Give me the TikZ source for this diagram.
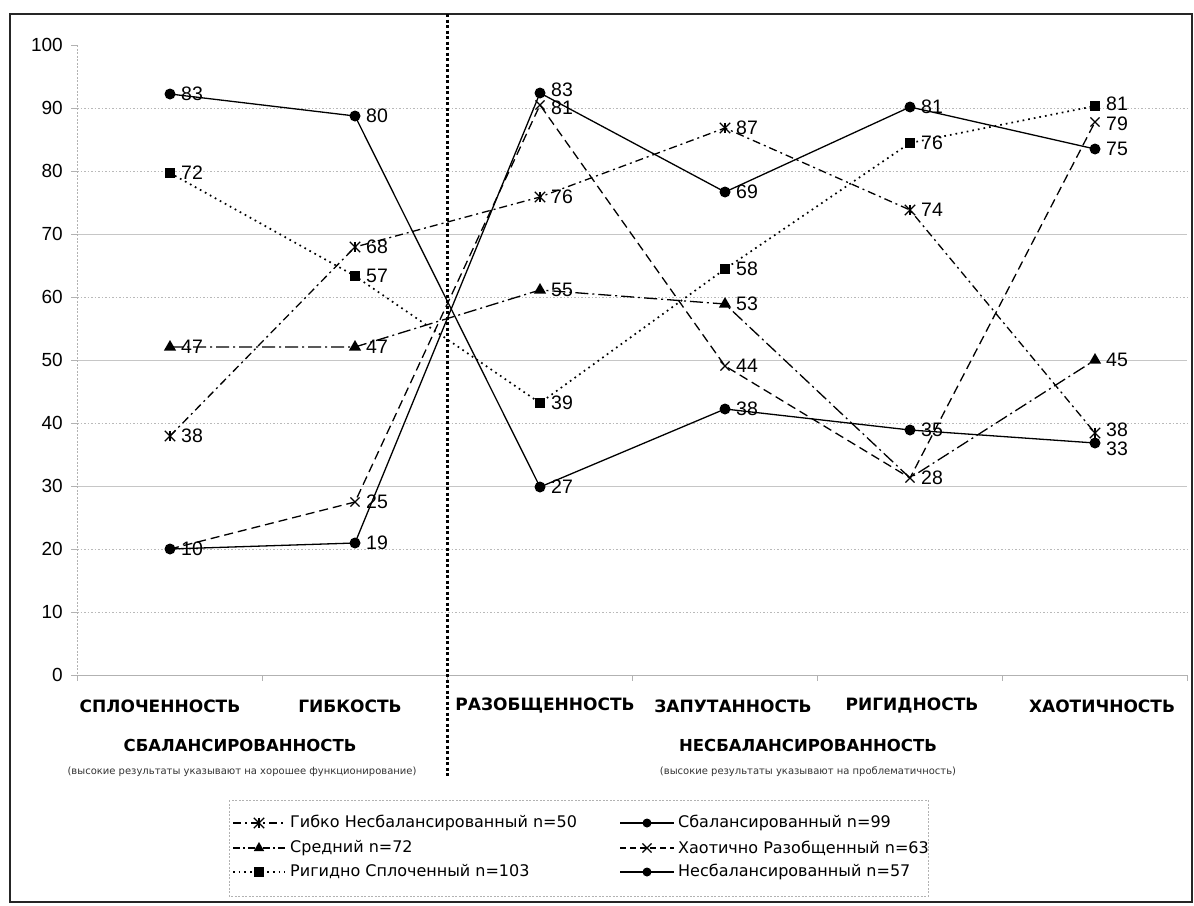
\documentclass[tikz,border=0pt]{standalone}
\usepackage{fontspec}
\setmainfont{Liberation Sans}
\newfontfamily\dvs{DejaVu Sans}
\usetikzlibrary{shapes.geometric,shapes.misc}
\begin{document}
\begin{tikzpicture}[x=1pt,y=-1pt,
  gridsolid/.style={gray!45,line width=0.9pt},
  griddot/.style={gray!55,line width=0.9pt,dash pattern=on 1.5pt off 2pt},
  ser/.style={line width=1.3pt,black},
  solidser/.style={ser},
  chaoser/.style={ser,dash pattern=on 9pt off 5pt},
  rigser/.style={ser,line width=1.7pt,dash pattern=on 1.7pt off 4pt},
  midser/.style={ser,dash pattern=on 13pt off 4pt on 2pt off 4pt},
  flexser/.style={ser,dash pattern=on 8pt off 4pt on 2pt off 4pt},
  mc/.style={circle,fill=black,inner sep=0pt,minimum size=11pt},
  ms/.style={rectangle,fill=black,inner sep=0pt,minimum size=10pt},
  mt/.style={regular polygon,regular polygon sides=3,fill=black,inner sep=0pt,minimum size=14pt},
  mx/.style={cross out,draw=black,line width=1.1pt,inner sep=0pt,minimum size=8pt},
  mstar/.style={cross out,draw=black,line width=1.3pt,inner sep=0pt,minimum size=9pt,
    append after command={(\tikzlastnode.north) edge[line width=1.3pt] (\tikzlastnode.south)}},
  lbl/.style={font=\fontsize{19.5}{20}\selectfont,anchor=west,inner sep=0pt,xshift=11pt},
  ylab/.style={font=\fontsize{19}{19}\selectfont,anchor=east,inner sep=0pt},
  catlab/.style={font=\dvs\bfseries\fontsize{17}{17}\selectfont,inner sep=0pt},
  grouplab/.style={font=\dvs\bfseries\fontsize{16.5}{17}\selectfont,inner sep=0pt},
  note/.style={font=\dvs\fontsize{10}{10}\selectfont,inner sep=0pt,text=black!80},
  legtxt/.style={font=\dvs\fontsize{16}{16}\selectfont,anchor=west,inner sep=0pt}
]
\useasboundingbox (0,0) rectangle (1194,905);
\draw[black!85,line width=1.6pt] (10,14) rectangle (1192,902);

% grid
\foreach \v/\s in {10/griddot,20/griddot,30/gridsolid,40/griddot,50/gridsolid,60/griddot,70/gridsolid,80/griddot,90/griddot}{
  \draw[\s] (77,{675-6.3*\v}) -- (1187,{675-6.3*\v});
}
% axes
\draw[gray!60,line width=0.9pt,dash pattern=on 2pt off 1.5pt] (77,45) -- (77,675);
\foreach \v in {0,10,...,100}{
  \draw[gray!60,line width=0.9pt] (71,{675-6.3*\v}) -- (77,{675-6.3*\v});
  \node[ylab] at (63,{675-6.3*\v}) {\v};
}
\draw[gray!60,line width=1pt] (77,675) -- (1187,675);
\foreach \k in {0,...,6}{
  \draw[gray!60,line width=0.9pt] ({77+185*\k},675) -- ({77+185*\k},681);
}

% separator
\coordinate (septop) at (447,14);
\coordinate (sepbot) at (447,778);
\draw[black,line width=3pt,dash pattern=on 3pt off 2.5pt] (septop) -- (sepbot);

% coordinates
\coordinate (b1) at (170,94);  \coordinate (b2) at (355,116); \coordinate (b3) at (540,487);
\coordinate (b4) at (725,409); \coordinate (b5) at (910,430); \coordinate (b6) at (1095,443);
\coordinate (u1) at (170,549); \coordinate (u2) at (355,543); \coordinate (u3) at (540,93);
\coordinate (u4) at (725,192); \coordinate (u5) at (910,107); \coordinate (u6) at (1095,149);
\coordinate (r1) at (170,173); \coordinate (r2) at (355,276); \coordinate (r3) at (540,403);
\coordinate (r4) at (725,269); \coordinate (r5) at (910,143); \coordinate (r6) at (1095,106);
\coordinate (m1) at (170,347); \coordinate (m2) at (355,347); \coordinate (m3) at (540,290);
\coordinate (m4) at (725,304); \coordinate (m5) at (910,478); \coordinate (m6) at (1095,360);
\coordinate (c1) at (170,549); \coordinate (c2) at (355,502); \coordinate (c3) at (540,105);
\coordinate (c4) at (725,366); \coordinate (c5) at (910,478); \coordinate (c6) at (1095,122);
\coordinate (f1) at (170,436); \coordinate (f2) at (355,247); \coordinate (f3) at (540,197);
\coordinate (f4) at (725,128); \coordinate (f5) at (910,210); \coordinate (f6) at (1095,433);

% series lines
\draw[rigser] (r1) -- (r2) -- (r3) -- (r4) -- (r5) -- (r6);
\draw[flexser] (f1) -- (f2) -- (f3) -- (f4) -- (f5) -- (f6);
\draw[midser] (m1) -- (m2) -- (m3) -- (m4) -- (m5) -- (m6);
\draw[chaoser] (c1) -- (c2) -- (c3) -- (c4) -- (c5) -- (c6);
\draw[solidser] (b1) -- (b2) -- (b3) -- (b4) -- (b5) -- (b6);
\draw[solidser] (u1) -- (u2) -- (u3) -- (u4) -- (u5) -- (u6);

% markers
\foreach \p in {r1,r2,r3,r4,r5,r6}{ \node[ms] at (\p) {}; }
\foreach \p in {f1,f2,f3,f4,f5,f6}{ \node[mstar] at (\p) {}; }
\foreach \p in {m1,m2,m3,m4,m6}{ \node[mt] at (\p) {}; }
\foreach \p in {c2,c3,c4,c5,c6}{ \node[mx] at (\p) {}; }
\foreach \p in {b1,b2,b3,b4,b5,b6,u1,u2,u3,u4,u5,u6}{ \node[mc] at (\p) {}; }

% data labels
\node[lbl] at (b1) {83}; \node[lbl] at (b2) {80}; \node[lbl] at (b3) {27};
\node[lbl] at (b4) {38}; \node[lbl] at (b5) {35}; \node[lbl,yshift=-6pt] at (b6) {33};
\node[lbl] at (u1) {10}; \node[lbl] at (u2) {19}; \node[lbl,yshift=3pt] at (u3) {83};
\node[lbl] at (u4) {69}; \node[lbl] at (u5) {81}; \node[lbl] at (u6) {75};
\node[lbl] at (r1) {72}; \node[lbl] at (r2) {57}; \node[lbl] at (r3) {39};
\node[lbl] at (r4) {58}; \node[lbl] at (r5) {76}; \node[lbl,yshift=2pt] at (r6) {81};
\node[lbl] at (m1) {47}; \node[lbl] at (m2) {47}; \node[lbl] at (m3) {55};
\node[lbl] at (m4) {53}; \node[lbl] at (m6) {45};
\node[lbl] at (c2) {25}; \node[lbl,yshift=-3pt] at (c3) {81}; \node[lbl] at (c4) {44};
\node[lbl] at (c5) {28}; \node[lbl,yshift=-2pt] at (c6) {79};
\node[lbl] at (f1) {38}; \node[lbl] at (f2) {68}; \node[lbl] at (f3) {76};
\node[lbl] at (f4) {87}; \node[lbl] at (f5) {74}; \node[lbl,yshift=3pt] at (f6) {38};

% category labels
\node[catlab] (k1) at (160,706) {СПЛОЧЕННОСТЬ};
\node[catlab] (k2) at (350,706) {ГИБКОСТЬ};
\node[catlab] (k3) at (545,706) {РАЗОБЩЕННОСТЬ};
\node[catlab] (k4) at (733,706) {ЗАПУТАННОСТЬ};
\node[catlab] (k5) at (912,706) {РИГИДНОСТЬ};
\node[catlab] (k6) at (1102,706) {ХАОТИЧНОСТЬ};
\node[grouplab] (g1) at (240,745) {СБАЛАНСИРОВАННОСТЬ};
\node[grouplab] (g2) at (808,745) {НЕСБАЛАНСИРОВАННОСТЬ};
\node[note] (n1) at (242,772) {(высокие результаты указывают на хорошее функционирование)};
\node[note] (n2) at (808,772) {(высокие результаты указывают на проблематичность)};

% legend
\draw[gray!60,line width=0.9pt,dash pattern=on 2pt off 1.5pt] (229,800) rectangle (928,896);
\coordinate (la1) at (233,823); \coordinate (lb1) at (285,823); \coordinate (lm1) at (259,823);
\coordinate (la2) at (233,848); \coordinate (lb2) at (285,848); \coordinate (lm2) at (259,848);
\coordinate (la3) at (233,872); \coordinate (lb3) at (285,872); \coordinate (lm3) at (259,872);
\coordinate (ra1) at (620,823); \coordinate (rb1) at (674,823); \coordinate (rm1) at (647,823);
\coordinate (ra2) at (620,848); \coordinate (rb2) at (674,848); \coordinate (rm2) at (647,848);
\coordinate (ra3) at (620,872); \coordinate (rb3) at (674,872); \coordinate (rm3) at (647,872);
\draw[flexser] (la1) -- (lb1); \node[mstar] at (lm1) {};
\draw[midser,dash pattern=on 7pt off 3pt on 2pt off 3pt] (la2) -- (lb2); \node[mt,minimum size=12pt] at (lm2) {};
\draw[rigser] (la3) -- (lb3); \node[ms] at (lm3) {};
\draw[solidser] (ra1) -- (rb1); \node[mc,minimum size=9pt] at (rm1) {};
\draw[chaoser,dash pattern=on 6pt off 4pt] (ra2) -- (rb2); \node[mx] at (rm2) {};
\draw[solidser] (ra3) -- (rb3); \node[mc,minimum size=9pt] at (rm3) {};
\node[legtxt] (t1) at (290,823) {Гибко Несбалансированный n=50};
\node[legtxt] (t2) at (290,848) {Средний n=72};
\node[legtxt] (t3) at (290,872) {Ригидно Сплоченный n=103};
\node[legtxt] (t4) at (678,823) {Сбалансированный n=99};
\node[legtxt] (t5) at (678,848) {Хаотично Разобщенный n=63};
\node[legtxt] (t6) at (678,872) {Несбалансированный n=57};
\end{tikzpicture}
\end{document}
